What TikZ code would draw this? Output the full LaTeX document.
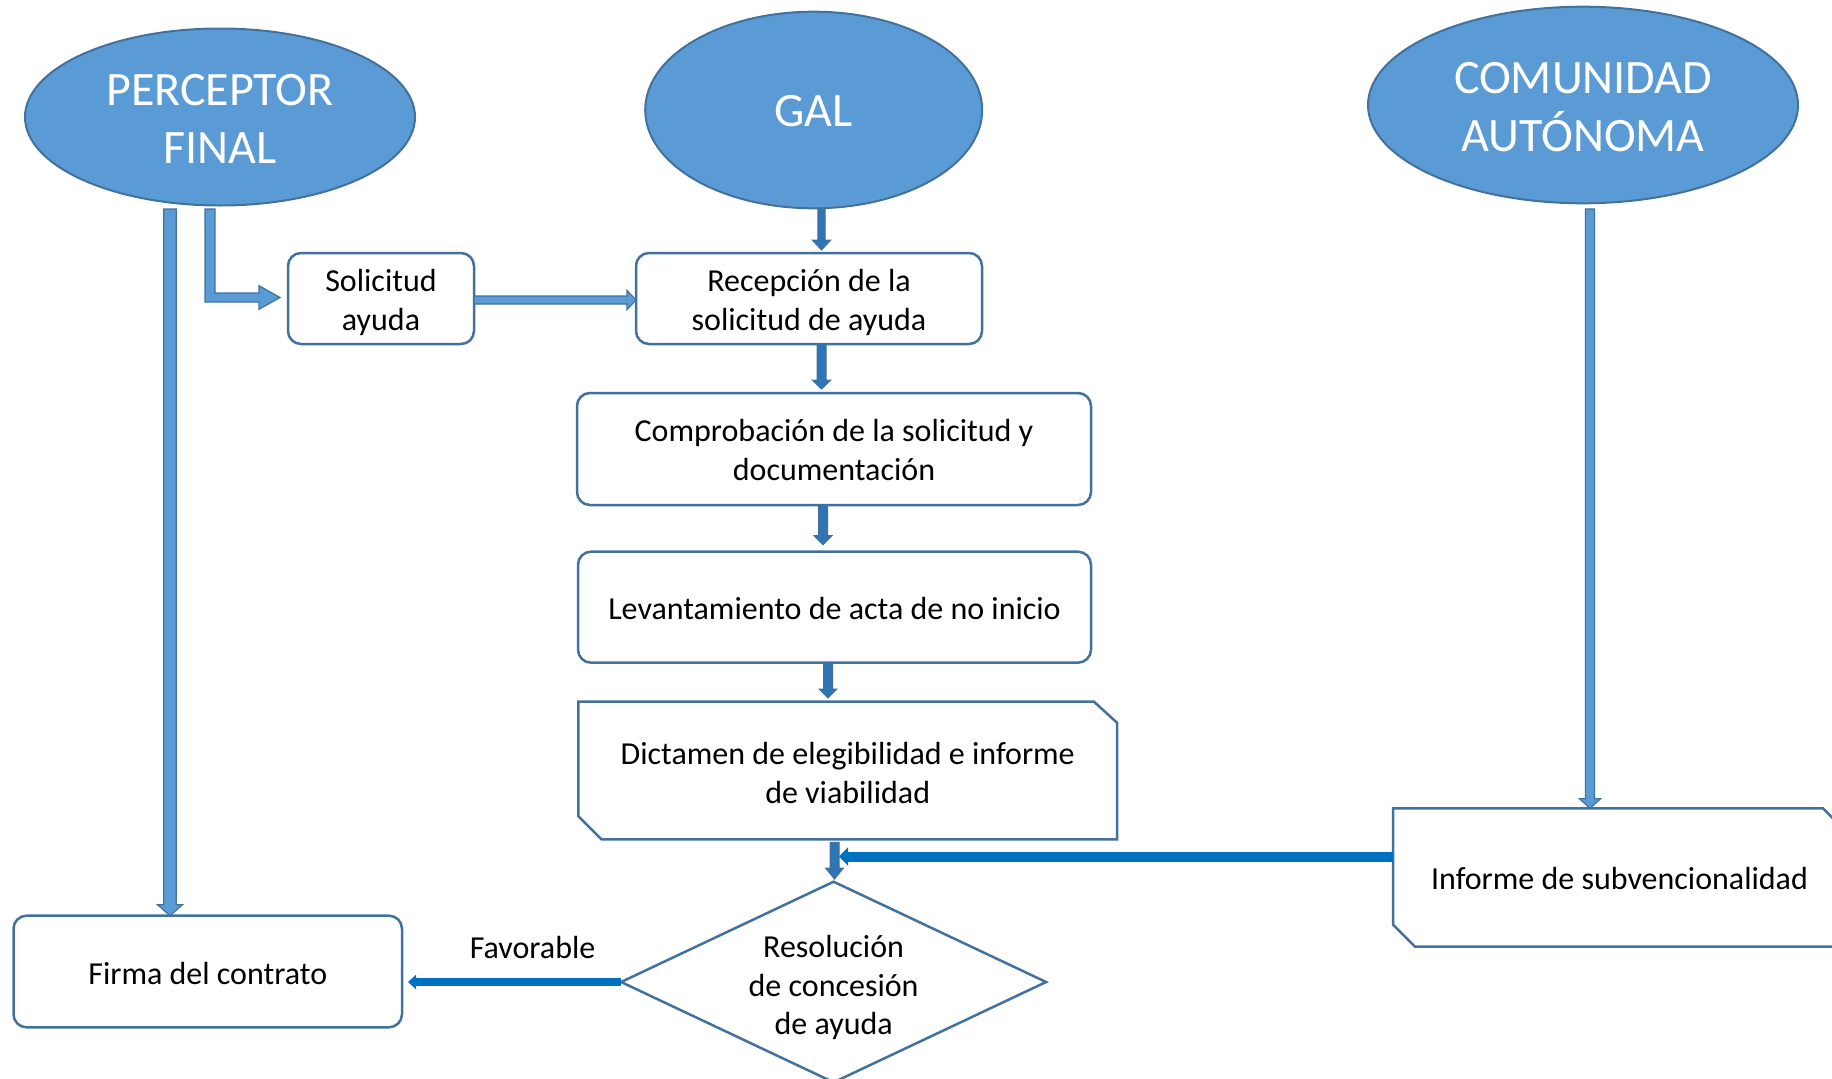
\documentclass[tikz,border=0pt]{standalone}
\usepackage{fontspec}
\setmainfont{Carlito}
\usetikzlibrary{shapes.geometric,arrows.meta,calc}
\definecolor{ellfill}{HTML}{5B9BD5}
\definecolor{edgeblue}{HTML}{41719C}
\definecolor{darkarrow}{HTML}{2E75B6}
\definecolor{thickblue}{HTML}{0070C0}
\newcommand\vblk[6]{\path[#1] let \p1=(#2), \p2=(#3) in (\x1-#4,\y1) -- (\x1-#4,\y2+#6) -- (\x1-#5,\y2+#6) -- (\x1,\y2) -- (\x1+#5,\y2+#6) -- (\x1+#4,\y2+#6) -- (\x1+#4,\y1) -- cycle;}
\newcommand\hblk[6]{\path[#1] let \p1=(#2), \p2=(#3) in (\x1,\y1-#4) -- (\x2-#6,\y1-#4) -- (\x2-#6,\y1-#5) -- (\x2,\y1) -- (\x2-#6,\y1+#5) -- (\x2-#6,\y1+#4) -- (\x1,\y1+#4) -- cycle;}
\begin{document}
\begin{tikzpicture}[x=1pt,y=-1pt,
  ell/.style={ellipse, draw=edgeblue, line width=2pt, fill=ellfill, inner sep=0pt, outer sep=0pt},
  etext/.style={text=white, font=\fontsize{48}{57.5}\selectfont, align=center, inner sep=0pt},
  procbox/.style={rectangle, rounded corners=13pt, draw=edgeblue, line width=2.5pt, fill=white,
    inner sep=0pt, outer sep=0pt},
  plainbox/.style={rectangle, draw=none, inner sep=0pt, outer sep=0pt},
  ttext/.style={font=\fontsize{32}{38.5}\selectfont, align=center, inner sep=0pt},
  outline/.style={draw=edgeblue, line width=2.5pt, line join=miter},
  blockl/.style={fill=ellfill, draw=edgeblue, line width=1.2pt},
  blockd/.style={fill=darkarrow, draw=edgeblue, line width=1pt},
  thickl/.style={draw=thickblue, line width=10pt, -{Triangle[length=9pt,width=18pt]}},
  thickm/.style={draw=thickblue, line width=8pt, -{Triangle[length=8pt,width=14pt]}}
]
\useasboundingbox (0,0) rectangle (1832,1079);

% top ellipses
\node[ell, minimum width=390pt, minimum height=177pt] (perc) at (220,117) {};
\node[etext] (perct) at ([yshift=-1.7pt]perc.center) {PERCEPTOR\\FINAL};
\node[ell, minimum width=337pt, minimum height=196.6pt] (gal) at (813.7,110) {};
\node[etext] (galt) at ([yshift=-1.2pt]gal.center) {GAL};
\node[ell, minimum width=430pt, minimum height=196.6pt] (com) at (1583,105) {};
\node[etext] (comt) at ([yshift=-2.3pt]com.center) {COMUNIDAD\\AUTÓNOMA};

% process boxes
\node[procbox, minimum width=186pt, minimum height=91pt] (sol) at (381,298.5) {};
\node[ttext] (solt) at ([yshift=-4pt]sol.center) {Solicitud\\ayuda};
\node[procbox, minimum width=346pt, minimum height=91pt] (rec) at (809,298.5) {};
\node[ttext] (rect) at ([yshift=-4pt]rec.center) {Recepción de la\\solicitud de ayuda};
\node[procbox, minimum width=514pt, minimum height=112pt] (comp) at (834,449) {};
\node[ttext] (compt) at ([yshift=-1.2pt]comp.center) {Comprobación de la solicitud y\\documentación};
\node[procbox, minimum width=513pt, minimum height=111pt] (lev) at (834.5,607.2) {};
\node[ttext] (levt) at ([yshift=-1.2pt]lev.center) {Levantamiento de acta de no inicio};
\node[procbox, minimum width=388.5pt, minimum height=111.6pt] (firma) at (207.75,971.5) {};
\node[ttext] (firmat) at ([yshift=-2.3pt]firma.center) {Firma del contrato};

% snipped boxes
\node[plainbox, minimum width=538.6pt, minimum height=137.6pt] (dict) at (847.7,770.5) {};
\draw[outline] (dict.north west) -- ([xshift=-23pt]dict.north east) -- ([yshift=-21pt]dict.north east)
  -- (dict.south east) -- ([xshift=23pt]dict.south west) -- ([yshift=23pt]dict.south west) -- cycle;
\node[ttext] (dictt) at ([yshift=-2.3pt]dict.center) {Dictamen de elegibilidad e informe\\de viabilidad};
\node[plainbox, minimum width=453pt, minimum height=138.4pt] (inf) at (1619.5,877.5) {};
\draw[outline] (inf.north west) -- ([xshift=-23pt]inf.north east) -- ([yshift=-23pt]inf.north east)
  -- (inf.south east) -- ([xshift=22pt]inf.south west) -- ([yshift=22pt]inf.south west) -- cycle;
\node[ttext] (inft) at ([yshift=-1.2pt]inf.center) {Informe de subvencionalidad};

% decision
\node[plainbox, minimum width=425pt, minimum height=200.6pt] (res) at (833.6,982) {};
\draw[outline] (res.north) -- (res.east) -- (res.south) -- (res.west) -- cycle;
\node[ttext] (rest) at ([yshift=-5.5pt]res.center) {Resolución\\de concesión\\de ayuda};

% dark block arrows (GAL column)
\vblk{blockd}{[xshift=7.8pt]gal.south}{[yshift=3pt]rec.north}{3.6pt}{9.3pt}{10pt}
\vblk{blockd}{[xshift=12.5pt]rec.south}{[yshift=4pt]comp.north}{4.5pt}{9.3pt}{9pt}
\vblk{blockd}{[xshift=-11pt]comp.south}{[yshift=7pt]lev.north}{4.5pt}{9pt}{9pt}
\vblk{blockd}{[xshift=-6.5pt]lev.south}{[yshift=3.7pt]dict.north}{4.5pt}{9pt}{9pt}
\vblk{blockd}{[xshift=-13.2pt,yshift=-3pt]dict.south}{[yshift=2.7pt]res.north}{4.5pt}{9pt}{11pt}

% light block arrows
\vblk{blockl}{[xshift=-50pt,yshift=-3.5pt]perc.south}{firma.north}{6.3pt}{12.5pt}{11pt}
\vblk{blockl}{[xshift=7pt,yshift=-5.6pt]com.south}{inf.north}{4.5pt}{10.5pt}{9.5pt}
\hblk{blockl}{[yshift=-1.5pt]sol.east}{rec.west}{4pt}{9.6pt}{9pt}
\path[blockl] let \p1=([xshift=-10pt,yshift=-3.5pt]perc.south), \p2=([xshift=-8pt,yshift=1pt]sol.west) in
  (\x1-5pt,\y1) -- (\x1-5pt,\y2-4.5pt) -- (\x2-21pt,\y2-4.5pt) -- (\x2-21pt,\y2-11.8pt) -- (\x2,\y2)
  -- (\x2-21pt,\y2+11.8pt) -- (\x2-21pt,\y2+4.5pt) -- (\x1+5pt,\y2+4.5pt) -- (\x1+5pt,\y1) -- cycle;

% thick connectors
\coordinate (join) at (839,856.5);
\draw[thickl] ([yshift=21pt]inf.west) -- (join);
\draw[thickm] (res.west) -- ([xshift=6pt,yshift=-10.5pt]firma.east);
\node[ttext] (fav) at (532.6,947.5) {Favorable};
\end{tikzpicture}
\end{document}
